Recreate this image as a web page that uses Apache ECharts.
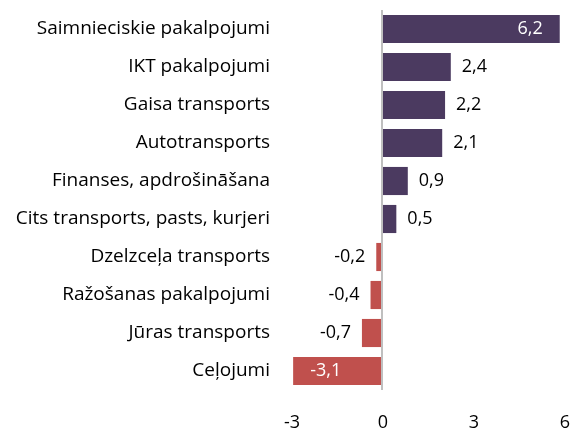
<!DOCTYPE html>
<html>
<head>
<meta charset="utf-8">
<script src="https://cdn.jsdelivr.net/npm/echarts@6/dist/echarts.min.js"></script>
<style>
  html, body { margin: 0; padding: 0; background: #fff; }
  #chart { width: 577px; height: 432px; }
</style>
</head>
<body>
<div id="chart"></div>
<script>
// categories, top to bottom as in the picture
var categories = [
  'Saimnieciskie pakalpojumi',
  'IKT pakalpojumi',
  'Gaisa transports',
  'Autotransports',
  'Finanses, apdrošināšana',
  'Cits transports, pasts, kurjeri',
  'Dzelzceļa transports',
  'Ražošanas pakalpojumi',
  'Jūras transports',
  'Ceļojumi'
];
var values = [6.2, 2.4, 2.2, 2.1, 0.9, 0.5, -0.2, -0.4, -0.7, -3.1];
var xTicks = [-3, 0, 3, 6];

var purple = '#4b3a60';
var red = '#c0504d';
var font = 'Open Sans';

var fmt = function (v) {
  return String(v).replace('.', ',');
};

var chart = echarts.init(document.getElementById('chart'));

var barData = values.map(function (v) {
  var big = Math.abs(v) > 3;
  var lbl;
  if (big && v > 0) {
    lbl = { position: 'insideRight', distance: 17, color: '#fff' };
  } else if (big) {
    lbl = { position: 'insideLeft', distance: 17, color: '#fff' };
  } else if (v > 0) {
    lbl = { position: 'right', distance: 11, color: '#000' };
  } else {
    lbl = { position: 'left', distance: 11, color: '#000' };
  }
  return {
    value: v,
    itemStyle: { color: v >= 0 ? purple : red },
    label: lbl
  };
});

var option = {
  animation: false,
  grid: [
    // bars
    { left: 296, right: 23, top: 10, bottom: 42 },
    // tick labels sit a little wider than the bars in the original
    { left: 292, right: 12, top: 10, bottom: 42 }
  ],
  xAxis: [{
    gridIndex: 0,
    type: 'value',
    min: xTicks[0],
    max: xTicks[xTicks.length - 1],
    interval: 3,
    axisLine: { show: false },
    axisTick: { show: false },
    splitLine: { show: false },
    axisLabel: { show: false }
  }, {
    gridIndex: 1,
    type: 'value',
    min: xTicks[0],
    max: xTicks[xTicks.length - 1],
    interval: 3,
    axisLine: { show: false },
    axisTick: { show: false },
    splitLine: { show: false },
    axisLabel: {
      margin: 24,
      fontFamily: font,
      fontSize: 18,
      color: '#000',
      formatter: function (v) { return fmt(v); }
    }
  }],
  yAxis: [{
    gridIndex: 0,
    type: 'category',
    inverse: true,
    data: categories,
    axisLine: { show: false, onZero: false },
    axisTick: { show: false },
    axisLabel: {
      margin: 26,
      fontFamily: font,
      fontSize: 19,
      color: '#000'
    }
  }, {
    gridIndex: 1,
    type: 'category',
    data: categories,
    show: false
  }],
  series: [{
    type: 'bar',
    xAxisIndex: 0,
    yAxisIndex: 0,
    data: barData,
    barWidth: '74%',
    clip: false,
    label: {
      show: true,
      fontFamily: font,
      fontSize: 18,
      formatter: function (p) { return fmt(p.value); }
    },
    markLine: {
      silent: true,
      symbol: 'none',
      label: { show: false },
      lineStyle: { color: '#bfbfbf', type: 'solid', width: 2 },
      data: [{ xAxis: 0 }]
    }
  }]
};

chart.setOption(option);
</script>
</body>
</html>
